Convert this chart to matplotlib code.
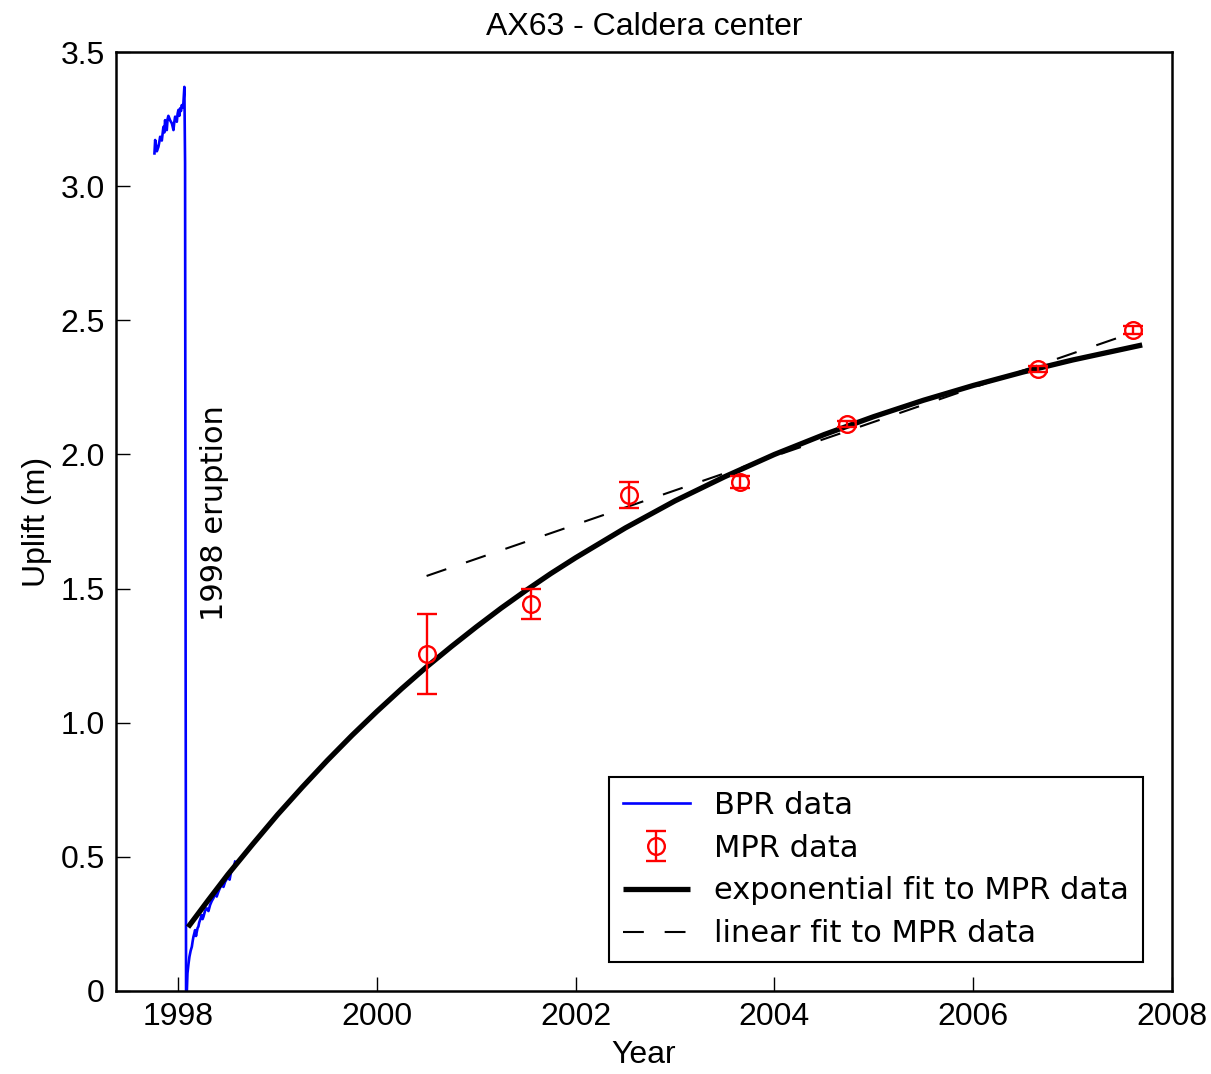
import numpy as np
import matplotlib
matplotlib.use("Agg")
import matplotlib.pyplot as plt

# BPR pressure record before the eruption (year, uplift in m)
bpr_pre_t = [1997.762, 1997.769, 1997.786, 1997.802, 1997.811, 1997.819, 1997.836,
             1997.852, 1997.861, 1997.869, 1997.878, 1997.886, 1997.894, 1997.902,
             1997.920, 1997.937, 1997.945, 1997.953, 1997.962, 1997.970, 1997.978,
             1997.987, 1997.995, 1998.003, 1998.012, 1998.020, 1998.029, 1998.037,
             1998.045, 1998.053, 1998.063, 1998.070, 1998.076, 1998.080]
bpr_pre_y = [3.122, 3.172, 3.130, 3.147, 3.165, 3.184, 3.170, 3.221, 3.200, 3.246,
             3.215, 3.209, 3.250, 3.262, 3.245, 3.234, 3.222, 3.209, 3.240, 3.259,
             3.248, 3.240, 3.270, 3.284, 3.262, 3.290, 3.280, 3.302, 3.292, 3.309,
             3.370, 3.086, 1.100, 0.000]

# BPR record after the eruption
bpr_post_t = [1998.088, 1998.094, 1998.104, 1998.114, 1998.126, 1998.138, 1998.146,
              1998.154, 1998.163, 1998.171, 1998.180, 1998.188, 1998.196, 1998.204,
              1998.212, 1998.221, 1998.230, 1998.238, 1998.246, 1998.255, 1998.272,
              1998.289, 1998.305, 1998.322, 1998.338, 1998.355, 1998.372, 1998.388,
              1998.405, 1998.422, 1998.440, 1998.456, 1998.473, 1998.490, 1998.506,
              1998.518, 1998.530, 1998.543, 1998.556, 1998.565, 1998.573]
bpr_post_y = [0.000, 0.066, 0.100, 0.128, 0.150, 0.165, 0.185, 0.202, 0.215, 0.227,
              0.205, 0.221, 0.235, 0.240, 0.255, 0.265, 0.275, 0.283, 0.268, 0.277,
              0.300, 0.308, 0.298, 0.321, 0.335, 0.346, 0.364, 0.352, 0.370, 0.385,
              0.395, 0.388, 0.407, 0.418, 0.426, 0.415, 0.439, 0.450, 0.463, 0.470,
              0.482]

# MPR survey data
mpr_t = [2000.50, 2001.55, 2002.54, 2003.65, 2004.73, 2006.65, 2007.61]
mpr_y = [1.256, 1.442, 1.849, 1.897, 2.113, 2.318, 2.464]
mpr_err = [0.150, 0.055, 0.050, 0.022, 0.012, 0.010, 0.015]

# exponential fit
exp_t = [1998.1, 1998.3, 1998.5, 1998.75, 1999.0, 1999.25, 1999.5, 1999.75, 2000.0,
         2000.25, 2000.5, 2000.75, 2001.0, 2001.25, 2001.5, 2001.75, 2002.0, 2002.5,
         2003.0, 2003.5, 2004.0, 2004.5, 2005.0, 2005.5, 2006.0, 2006.5, 2007.0, 2007.7]
exp_y = [0.238, 0.337, 0.434, 0.547, 0.657, 0.760, 0.859, 0.953, 1.042,
         1.127, 1.208, 1.284, 1.357, 1.427, 1.493, 1.556, 1.615, 1.726,
         1.827, 1.917, 2.000, 2.074, 2.141, 2.202, 2.257, 2.307, 2.352, 2.408]

# linear fit end points
lin_t = [2000.5, 2007.6]
lin_y = [1.547, 2.453]

xticks = [1998, 2000, 2002, 2004, 2006, 2008]
yticks = [0, 0.5, 1.0, 1.5, 2.0, 2.5, 3.0, 3.5]
ytick_labels = ["0", "0.5", "1.0", "1.5", "2.0", "2.5", "3.0", "3.5"]

fig = plt.figure(figsize=(12.11, 10.74), dpi=100)
ax = fig.add_axes([116/1211, 1 - 991/1074, (1172-116)/1211, (991-52)/1074])

h_bpr, = ax.plot(bpr_pre_t, bpr_pre_y, color="blue", lw=1.9, label="BPR data")
ax.plot(bpr_post_t, bpr_post_y, color="blue", lw=1.9)
h_mpr = ax.errorbar(mpr_t, mpr_y, yerr=mpr_err, fmt="o", mfc="none", mec="red", ms=12,
                    mew=1.7, ecolor="red", elinewidth=1.7, capsize=7, capthick=1.7,
                    label="MPR data", zorder=4)
h_exp, = ax.plot(exp_t, exp_y, color="black", lw=3.8, solid_capstyle="butt",
                 solid_joinstyle="round", label="exponential fit to MPR data", zorder=3)
h_lin, = ax.plot(lin_t, lin_y, color="black", lw=1.5, linestyle=(0, (10, 10)),
                 label="linear fit to MPR data", zorder=3)

ax.text(1998.37, 1.78, "1998 eruption", rotation=90, fontsize=22,
        family="DejaVu Sans", ha="center", va="center")

ax.set_xlim(1997.375, 2008)
ax.set_ylim(0, 3.5)
ax.set_xticks(xticks)
ax.set_yticks(yticks)
ax.set_yticklabels(ytick_labels)
ax.tick_params(direction="in", length=10, width=1, labelsize=23,
               top=False, right=False, pad=8)
for lab in ax.get_xticklabels() + ax.get_yticklabels():
    lab.set_family("Liberation Sans")
for sp in ax.spines.values():
    sp.set_linewidth(1.8)

ax.set_title("AX63 - Caldera center", fontsize=23, family="Liberation Sans", pad=12)
ax.set_xlabel("Year", fontsize=23, family="Liberation Sans", labelpad=6)
ax.set_ylabel("Uplift (m)", fontsize=23, family="Liberation Sans", labelpad=6)

leg = ax.legend([h_bpr, h_mpr, h_exp, h_lin],
                ["BPR data", "MPR data", "exponential fit to MPR data",
                 "linear fit to MPR data"],
                loc="lower right", prop={"family": "DejaVu Sans", "size": 22},
                fancybox=False, edgecolor="black", framealpha=1, handlelength=2.2,
                borderaxespad=0.95, borderpad=0.45, labelspacing=0.45)
leg.get_frame().set_linewidth(1.5)

fig.savefig("out.png", dpi=100)
